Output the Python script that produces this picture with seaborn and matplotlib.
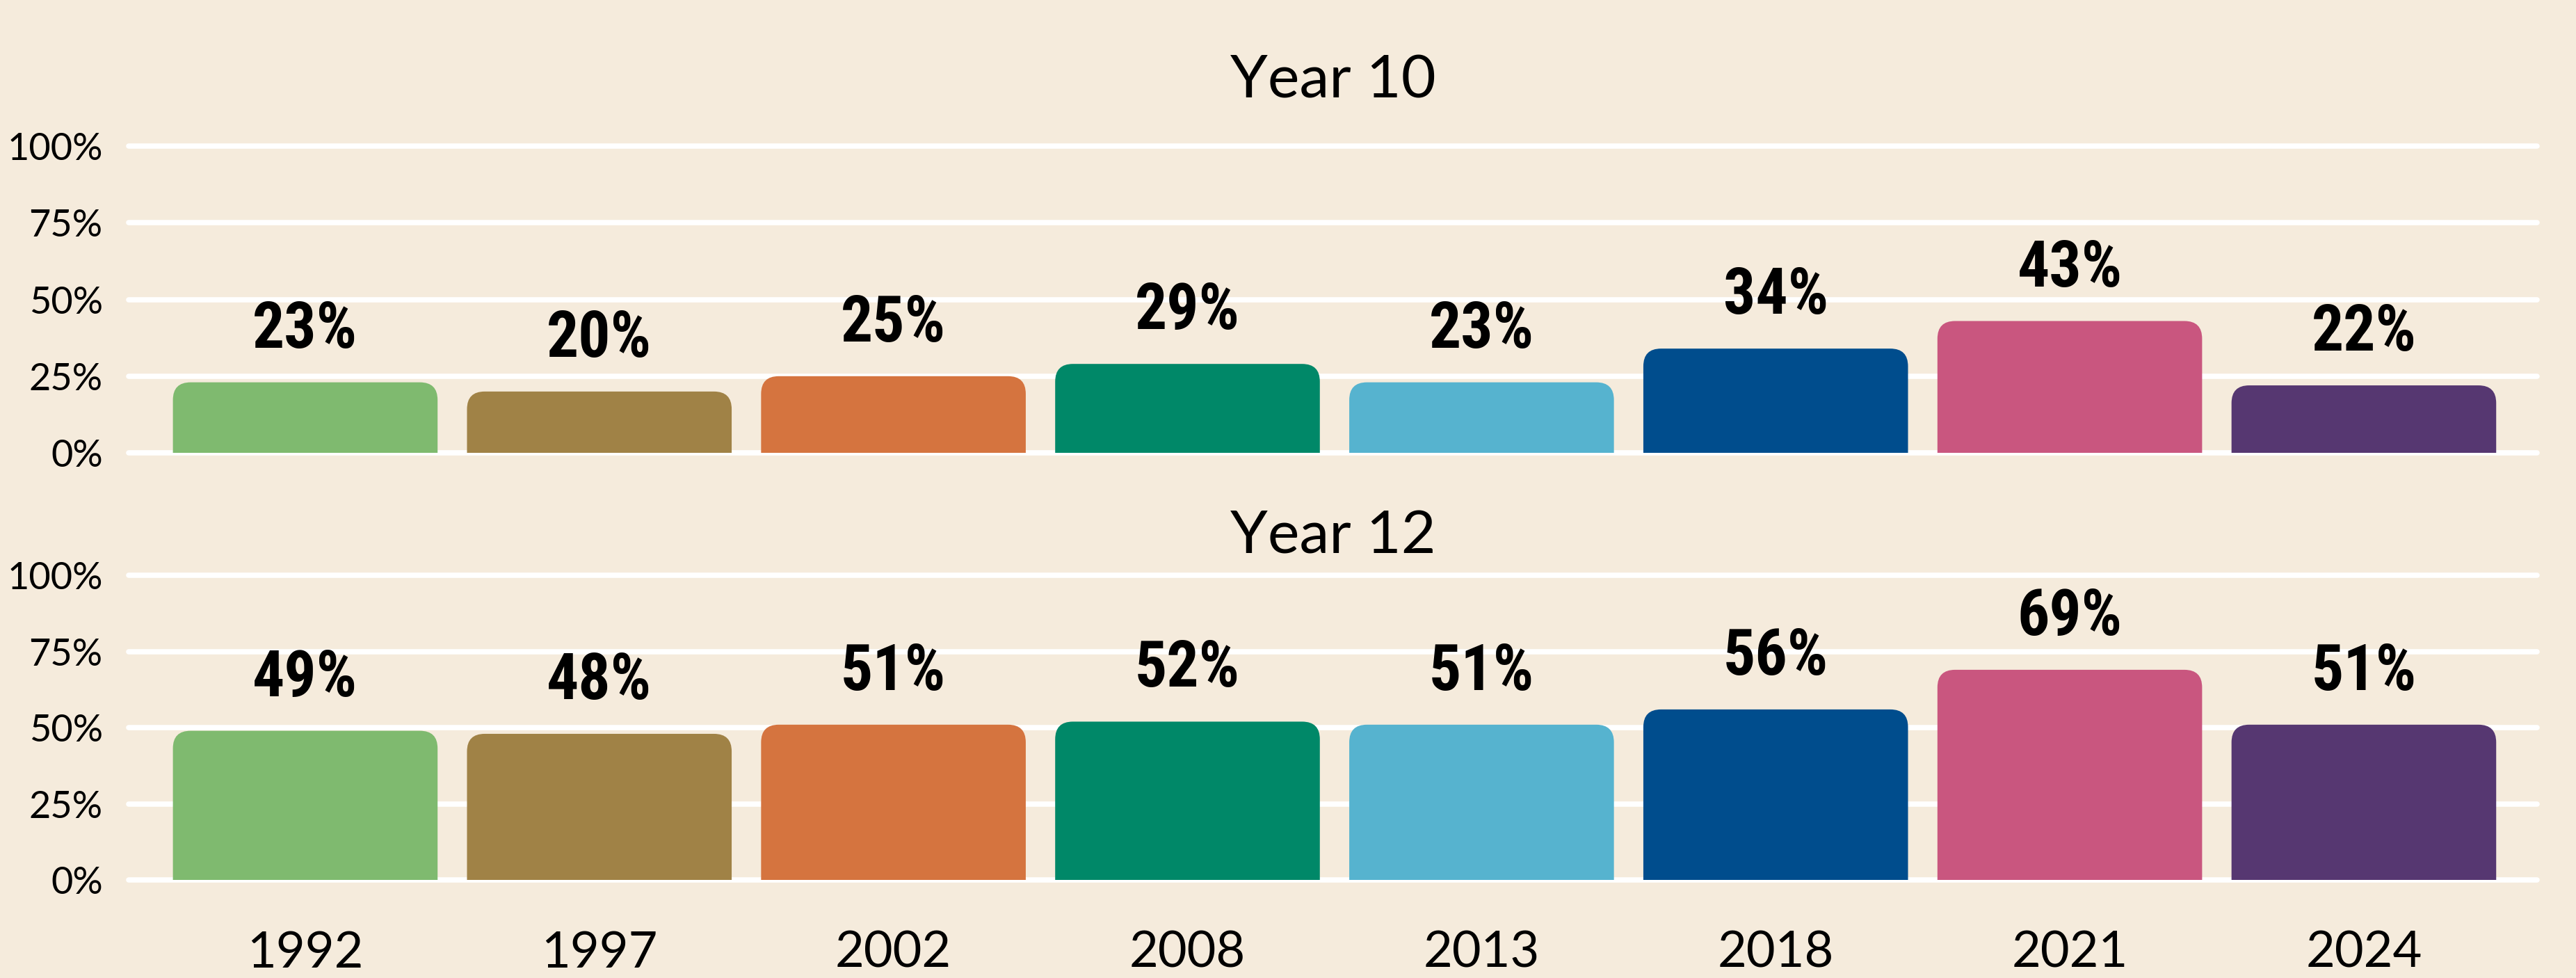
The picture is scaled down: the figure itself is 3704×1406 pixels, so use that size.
import matplotlib
matplotlib.use("Agg")
import matplotlib.pyplot as plt
from matplotlib.patches import FancyBboxPatch
import seaborn as sns

BG = "#F5EBDC"

YEARS = ["1992", "1997", "2002", "2008", "2013", "2018", "2021", "2024"]
YEAR10 = [23, 20, 25, 29, 23, 34, 43, 22]
YEAR12 = [49, 48, 51, 52, 51, 56, 69, 51]
COLORS = ["#7FBA6F", "#A08246", "#D5743F", "#008868",
          "#56B3CF", "#004D8D", "#C9567F", "#563771"]
PANEL_TITLES = ["Year 10", "Year 12"]
Y_TICKS = [0, 25, 50, 75, 100]

sns.set_theme(style="darkgrid", rc={
    "axes.facecolor": BG,
    "figure.facecolor": BG,
    "grid.color": "white",
    "grid.linewidth": 5.5,
})
plt.rcParams["font.family"] = ["Lato", "DejaVu Sans"]
LABEL_FONT = ["Roboto Condensed", "DejaVu Sans"]

fig = plt.figure(figsize=(37.04, 14.06), dpi=100)
ax_top = fig.add_axes([0.05, 0.537, 0.935, 0.3134])
ax_bot = fig.add_axes([0.05, 0.10, 0.935, 0.3118])


def draw_panel(ax, values, title, title_pad, show_x):
    sns.barplot(x=YEARS, y=values, hue=YEARS, palette=COLORS, legend=False,
                width=0.9, saturation=1, ax=ax)
    # swap plain bars for bars with rounded tops (bottom part gets clipped)
    r = 0.06
    asp = 96
    for p in list(ax.patches):
        x, w, h = p.get_x(), p.get_width(), p.get_height()
        fc = p.get_facecolor()
        p.remove()
        nb = FancyBboxPatch((x, -r * asp), w, h + r * asp,
                            boxstyle=f"round,pad=0,rounding_size={r}",
                            mutation_aspect=asp, facecolor=fc,
                            edgecolor="none", zorder=2)
        ax.add_patch(nb)
        ax.annotate(f"{h:.0f}%", xy=(x + w / 2, h), xytext=(0, 36),
                    textcoords="offset points", ha="center", va="baseline",
                    fontsize=66, fontweight="bold", fontstretch="condensed",
                    family=LABEL_FONT, color="black")
    ax.set_ylim(0, 100)
    ax.set_xlim(-0.6, 7.59)
    ax.set_yticks(Y_TICKS)
    ax.set_yticklabels([f"{t}%" for t in Y_TICKS])
    ax.grid(axis="x", visible=False)
    for gl in ax.yaxis.get_gridlines():
        gl.set_clip_on(False)
    ax.set_axisbelow(True)
    ax.tick_params(axis="y", length=0, pad=27, labelsize=39, colors="black")
    ax.tick_params(axis="x", length=0, pad=52, labelsize=52, colors="black")
    if not show_x:
        ax.set_xticklabels([])
    ax.set_xlabel("")
    ax.set_ylabel("")
    for s in ax.spines.values():
        s.set_visible(False)
    ax.set_title(title, fontsize=62, pad=title_pad, color="black")


draw_panel(ax_top, YEAR10, PANEL_TITLES[0], 50, False)
draw_panel(ax_bot, YEAR12, PANEL_TITLES[1], 23, True)

fig.savefig("out.png", dpi=100, facecolor=BG)
